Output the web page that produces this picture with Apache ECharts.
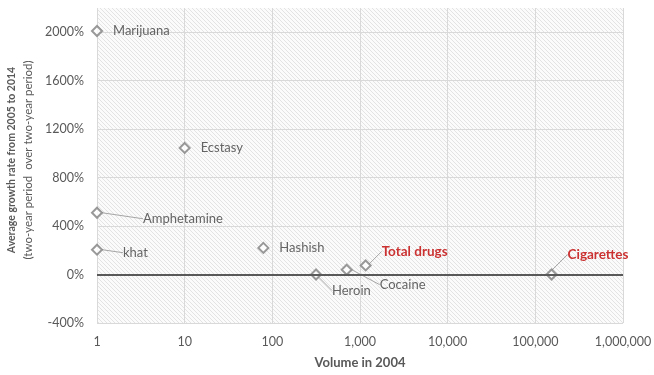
<!DOCTYPE html>
<html>
<head>
<meta charset="utf-8">
<script src="https://cdn.jsdelivr.net/npm/echarts@6/dist/echarts.min.js"></script>
<style>
  html, body { margin: 0; padding: 0; background: #fff; }
  #chart { width: 654px; height: 375px; }
</style>
</head>
<body>
<div id="chart"></div>
<script>
// Substances and their 2004 volume vs. average growth rate 2005–2014 (%)
const categories = ['Marijuana', 'Ecstasy', 'Amphetamine', 'khat', 'Hashish', 'Heroin', 'Cocaine', 'Total drugs', 'Cigarettes'];
const volume2004 = [1, 10, 1, 1, 79, 315, 705, 1160, 153000];
const growthRate = [2010, 1045, 510, 205, 220, 0, 40, 75, 0];

const xTickValues = [1, 10, 100, 1000, 10000, 100000, 1000000];
const yTickValues = [-400, 0, 400, 800, 1200, 1600, 2000];

// Label nudges (dx, dy) for the annotated points, in pixels
const labelShift = {
  'Amphetamine': [30, 6],
  'khat': [10, 3],
  'Heroin': [0, 16],
  'Cocaine': [17, 15],
  'Total drugs': [0, -14],
  'Cigarettes': [0, -20]
};
const highlighted = new Set(['Total drugs', 'Cigarettes']);

// Diagonal hatch tile for the plot area
function hatchTile() {
  const s = 4;
  const c = document.createElement('canvas');
  c.width = s; c.height = s;
  const ctx = c.getContext('2d');
  ctx.fillStyle = '#fbfbfb';
  ctx.fillRect(0, 0, s, s);
  ctx.fillStyle = '#e3e3e3';
  for (let i = 0; i < s; i++) ctx.fillRect(i, i, 1, 1);
  return c;
}

const FONT = 'Lato, "Open Sans", sans-serif';
const chart = echarts.init(document.getElementById('chart'), null, { renderer: 'canvas' });

const points = categories.map((name, i) => {
  const isHi = highlighted.has(name);
  const shifted = labelShift[name] !== undefined;
  return {
    name: name,
    value: [volume2004[i], growthRate[i]],
    label: {
      color: isHi ? '#c00000' : '#404040',
      fontWeight: isHi ? 'bold' : 'normal',
      fontSize: isHi ? 13.5 : 13
    },
    labelLine: { show: shifted }
  };
});

chart.setOption({
  animation: false,
  textStyle: { fontFamily: FONT },
  grid: {
    left: 97, right: 31, top: 8, bottom: 52,
    outerBoundsMode: 'none',
    containLabel: false,
    show: true,
    borderWidth: 0,
    backgroundColor: { image: hatchTile(), repeat: 'repeat' }
  },
  xAxis: {
    type: 'log',
    logBase: 10,
    min: xTickValues[0],
    max: xTickValues[xTickValues.length - 1],
    name: 'Volume in 2004',
    nameLocation: 'middle',
    nameGap: 33,
    nameTextStyle: { fontFamily: FONT, fontWeight: 'bold', fontSize: 13, color: '#595959' },
    axisLine: { show: false },
    axisTick: { show: false },
    axisLabel: {
      margin: 12,
      fontFamily: FONT,
      fontSize: 12.5,
      color: '#595959',
      formatter: v => Number(v).toLocaleString('en-US')
    },
    splitLine: { show: true, lineStyle: { color: '#d9d9d9', width: 1 } }
  },
  yAxis: {
    type: 'value',
    min: yTickValues[0],
    max: 2200,
    interval: 400,
    name: '{a|Average growth rate from 2005 to 2014}\n{b|(two-year period  over two-year period)}',
    nameLocation: 'middle',
    nameRotate: 90,
    nameGap: 56,
    nameTextStyle: {
      padding: [0, 0, 0, 11],
      rich: {
        a: { fontFamily: FONT, fontWeight: 'bold', fontSize: 10.5, color: '#595959', lineHeight: 16 },
        b: { fontFamily: FONT, fontSize: 11.5, color: '#595959', lineHeight: 16 }
      }
    },
    axisLine: { show: false },
    axisTick: { show: false },
    axisLabel: {
      margin: 13,
      fontFamily: FONT,
      fontSize: 12.5,
      color: '#595959',
      showMaxLabel: false,
      formatter: v => (yTickValues.indexOf(v) >= 0 ? v + '%' : '')
    },
    splitLine: { show: true, showMaxLine: false, lineStyle: { color: '#d9d9d9', width: 1 } }
  },
  series: [{
    type: 'scatter',
    symbol: 'diamond',
    symbolSize: 10,
    itemStyle: { color: '#ffffff', borderColor: '#7f7f7f', borderWidth: 2 },
    label: {
      show: true,
      position: 'right',
      distance: 10,
      formatter: p => p.name,
      fontFamily: FONT
    },
    labelLine: {
      show: false,
      smooth: false,
      lineStyle: { color: '#a6a6a6', width: 1 }
    },
    labelLayout: params => {
      const s = labelShift[categories[params.dataIndex]];
      return s ? { dx: s[0], dy: s[1] } : {};
    },
    markLine: {
      silent: true,
      symbol: 'none',
      label: { show: false },
      lineStyle: { color: '#595959', width: 2, type: 'solid' },
      data: [{ yAxis: 0 }]
    },
    data: points,
    z: 3
  }]
});
</script>
</body>
</html>
